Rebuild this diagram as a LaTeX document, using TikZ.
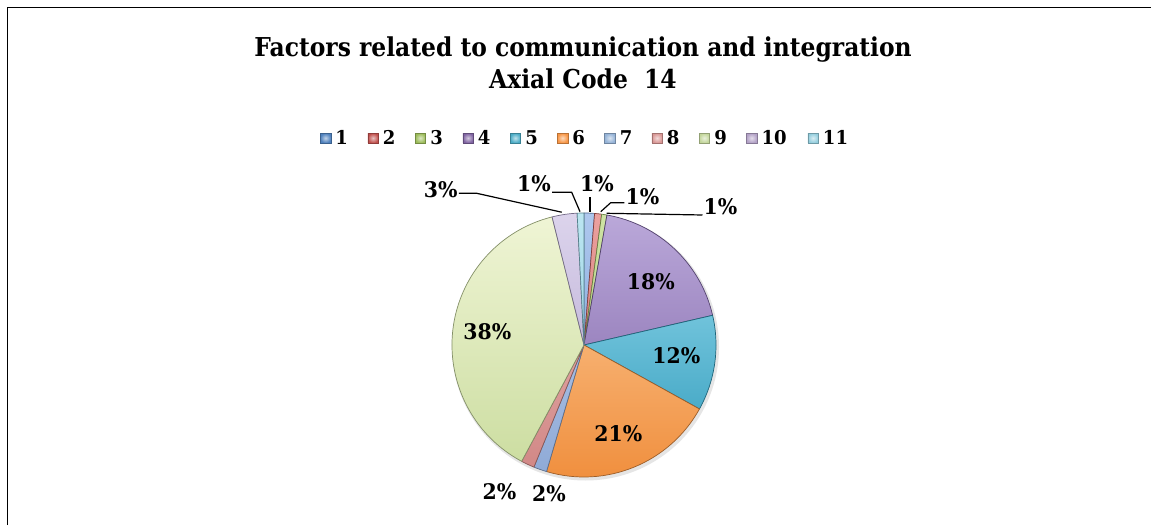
\documentclass[tikz,border=0pt]{standalone}
\usepackage{fontspec}
\setmainfont[FakeStretch=0.95]{DejaVu Serif}
\newfontfamily\ttlf[FakeStretch=0.9]{DejaVu Serif}
\definecolor{lc1}{HTML}{4F81BD}\definecolor{lc2}{HTML}{C0504D}
\definecolor{lc3}{HTML}{9BBB59}\definecolor{lc4}{HTML}{8064A2}
\definecolor{lc5}{HTML}{4BACC6}\definecolor{lc6}{HTML}{F79646}
\definecolor{lc7}{HTML}{95B3D7}\definecolor{lc8}{HTML}{D99694}
\definecolor{lc9}{HTML}{C3D69B}\definecolor{lc10}{HTML}{B3A2C7}
\definecolor{lc11}{HTML}{93CDDD}
\definecolor{st1}{HTML}{AFC8EE}\definecolor{sb1}{HTML}{6E98D2}
\definecolor{st2}{HTML}{EBA2A0}\definecolor{sb2}{HTML}{C9605D}
\definecolor{st3}{HTML}{CFE3A6}\definecolor{sb3}{HTML}{A3C465}
\definecolor{st4}{HTML}{BBA9DA}\definecolor{sb4}{HTML}{7D62A6}
\definecolor{st5}{HTML}{9ADDF0}\definecolor{sb5}{HTML}{2E9ABA}
\definecolor{st6}{HTML}{FDD0A0}\definecolor{sb6}{HTML}{F08F3E}
\definecolor{st7}{HTML}{C2D4F0}\definecolor{sb7}{HTML}{8EA9D6}
\definecolor{st8}{HTML}{EDBCBB}\definecolor{sb8}{HTML}{D08684}
\definecolor{st9}{HTML}{F0F5D6}\definecolor{sb9}{HTML}{CADC9E}
\definecolor{st10}{HTML}{DCD4EC}\definecolor{sb10}{HTML}{B0A1CD}
\definecolor{st11}{HTML}{BCE6F1}\definecolor{sb11}{HTML}{84C6D8}
\newcommand\pieslice[3]{%
  \begin{scope}
    \clip (c) -- ++(#1:132) arc[start angle=#1,end angle=#2,radius=132] -- cycle;
    \shade[top color=st#3,bottom color=sb#3] (450,46) rectangle (718,314);
  \end{scope}
  \draw[draw=sb#3!65!black,line width=0.7pt,line join=round]
    (c) -- ++(#1:132) arc[start angle=#1,end angle=#2,radius=132] -- cycle;
}
\begin{document}
\begin{tikzpicture}[x=1pt,y=1pt,
  ttl/.style={font=\ttlf\bfseries\fontsize{26}{31}\selectfont,inner sep=0pt,anchor=base},
  lbl/.style={font=\bfseries\fontsize{21.5}{25}\selectfont,inner sep=1pt},
  leg/.style={font=\bfseries\fontsize{19}{22}\selectfont,inner sep=0pt,anchor=base west},
  lead/.style={line width=1.2pt,black},
  mk/.style={minimum width=10.5,minimum height=9.5,inner sep=0pt,draw=#1!75!black,line width=0.3pt,inner color=#1!35!white,outer color=#1}]
\useasboundingbox (0,0) rectangle (1151,525);
\fill[white] (0,0) rectangle (1151,525);
\draw[line width=1.8pt] (7.5,0) -- (7.5,517.5) -- (1151,517.5);
% title
\node[ttl] (t1) at (583,468.7) {Factors related to communication and integration};
\node[ttl] (t2) at (583,436) {Axial Code\ \ 14};
% legend
\foreach \i/\x in {1/325.5,2/373,3/420.3,4/468,5/515.3,6/562.5,7/609.8,8/657,9/704.3,10/751.6,11/813}{
  \node[mk=lc\i] (m\i) at (\x,387) {};
  \node[leg] (g\i) at (\x+9.75,380.7) {\i};
}
% pie
\coordinate (c) at (584,180);
\fill[black!10] (585.5,178) circle (133.5);
\foreach \a/\b/\n in {90/85.4/1,85.4/82.3/2,82.3/80/3,80/13/4,13/-29/5,-29/-106.5/6,
  -106.5/-112.3/7,-112.3/-118.2/8,-118.2/-256/9,-256/-267/10,-267/-270/11}{
  \pieslice{\a}{\b}{\n}
}
% labels
\node[lbl] (l4) at (650.8,243.3) {18\%};
\node[lbl] (l5) at (676.3,169.2) {12\%};
\node[lbl] (l6) at (618.3,91.2) {21\%};
\node[lbl] (l9) at (487.3,193.7) {38\%};
\node[lbl] (l8) at (499.5,33.3) {2\%};
\node[lbl] (l7) at (549,31.2) {2\%};
\node[lbl] (l10) at (440.8,335.3) {3\%};
\node[lbl] (l11) at (534,341) {1\%};
\node[lbl] (l1) at (597,341) {1\%};
\node[lbl] (l2) at (642.5,328) {1\%};
\node[lbl] (l3) at (720.5,318) {1\%};
% leader lines
\coordinate (k10) at (476.7,331.7); \coordinate (e10) at (561.7,312.8);
\coordinate (k11) at (571.7,332.7); \coordinate (e11) at (580,313.3);
\coordinate (k1) at (590,327.7);    \coordinate (e1) at (590,313.3);
\coordinate (k2) at (610.7,322.3);  \coordinate (e2) at (600.7,313.3);
\coordinate (k3) at (698.3,310);    \coordinate (e3) at (606.7,311.7);
\draw[lead] (l10.east |- k10) -- (k10) -- (e10);
\draw[lead] (l11.east |- k11) -- (k11) -- (e11);
\draw[lead] (k1) -- (e1);
\draw[lead] (l2.west |- k2) -- (k2) -- (e2);
\draw[lead] (l3.west |- k3) -- (e3);
\end{tikzpicture}
\end{document}
